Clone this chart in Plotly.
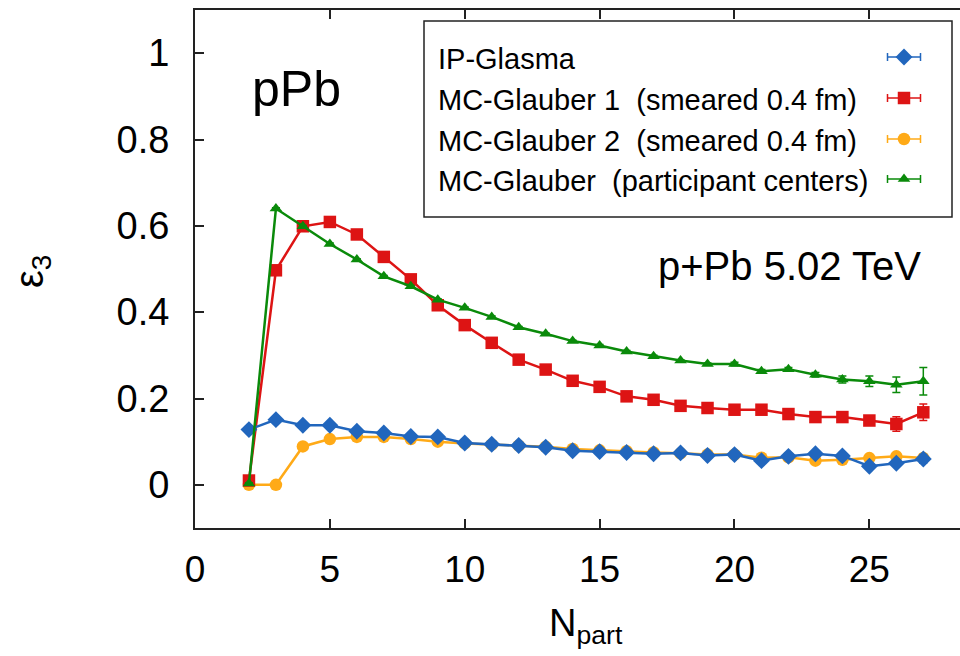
import plotly.graph_objects as go

# N_part bins
npart = list(range(2, 28))

# epsilon_3 for each model
ip_glasma = [0.128, 0.151, 0.138, 0.138, 0.124, 0.120, 0.112, 0.111, 0.097, 0.094,
             0.091, 0.087, 0.079, 0.077, 0.075, 0.072, 0.074, 0.068, 0.070, 0.056,
             0.066, 0.072, 0.067, 0.043, 0.050, 0.060]
ip_glasma_err = [0.002] * 22 + [0.004, 0.005, 0.007, 0.010]

glauber1 = [0.010, 0.497, 0.599, 0.609, 0.580, 0.528, 0.476, 0.416, 0.370, 0.329,
            0.290, 0.267, 0.241, 0.227, 0.205, 0.197, 0.183, 0.178, 0.174, 0.174,
            0.164, 0.157, 0.157, 0.149, 0.141, 0.168]
glauber1_err = [0.002] * 21 + [0.004, 0.005, 0.008, 0.017, 0.019]

glauber2 = [0.000, 0.000, 0.089, 0.106, 0.111, 0.111, 0.106, 0.100, 0.096, 0.093,
            0.091, 0.088, 0.083, 0.080, 0.078, 0.075, 0.073, 0.070, 0.070, 0.063,
            0.064, 0.056, 0.058, 0.062, 0.066, 0.062]
glauber2_err = [0.002] * 22 + [0.003, 0.004, 0.006, 0.008]

glauber_part = [0.003, 0.640, 0.599, 0.558, 0.522, 0.483, 0.460, 0.429, 0.410, 0.389,
                0.365, 0.350, 0.333, 0.323, 0.309, 0.298, 0.288, 0.280, 0.280, 0.263,
                0.268, 0.255, 0.244, 0.240, 0.232, 0.240]
glauber_part_err = [0.002] * 18 + [0.004, 0.004, 0.004, 0.005, 0.008, 0.012, 0.018, 0.032]

labels = ["IP-Glasma",
          "MC-Glauber 1  (smeared 0.4 fm)",
          "MC-Glauber 2  (smeared 0.4 fm)",
          "MC-Glauber  (participant centers)"]

xticks = [0, 5, 10, 15, 20, 25]
yticks = [0, 0.2, 0.4, 0.6, 0.8, 1]

BLUE = "#2166bd"
RED = "#dd1414"
ORANGE = "#ffaa17"
GREEN = "#0a8a0a"
FONT = "Liberation Sans, Arial, Helvetica, sans-serif"

series = {
    "ip": dict(y=ip_glasma, err=ip_glasma_err, color=BLUE, symbol="diamond", size=13, label=labels[0]),
    "g1": dict(y=glauber1, err=glauber1_err, color=RED, symbol="square", size=12.5, label=labels[1]),
    "g2": dict(y=glauber2, err=glauber2_err, color=ORANGE, symbol="circle", size=12.5, label=labels[2]),
    "gp": dict(y=glauber_part, err=glauber_part_err, color=GREEN, symbol="triangle-up", size=11, label=labels[3]),
}

fig = go.Figure()

# drawing order: later traces sit on top
for key in ["g2", "g1", "ip", "gp"]:
    s = series[key]
    fig.add_trace(go.Scatter(
        x=npart, y=s["y"], mode="lines+markers", name=s["label"],
        line=dict(color=s["color"], width=2.5),
        marker=dict(symbol=s["symbol"], size=s["size"], color=s["color"], line=dict(width=0)),
        error_y=dict(type="data", array=s["err"], visible=True, color=s["color"],
                     thickness=1.5, width=4),
        showlegend=False,
    ))

# Plot area in pixels: x 195..960, y 10..528 (measured from the top)
PX_L, PX_R, PX_T, PX_B = 195, 960, 10, 528


def px(xp, yp):
    """Pixel position -> paper coordinates."""
    return (xp - PX_L) / (PX_R - PX_L), (PX_B - yp) / (PX_B - PX_T)


# key box drawn in a pixel-based overlay frame
key_x_text = 436
key_x_mark = 904
key_rows = [57, 98, 139, 179]
for key, yy in zip(["ip", "g1", "g2", "gp"], key_rows):
    s = series[key]
    fig.add_trace(go.Scatter(
        x=[key_x_mark], y=[yy], mode="markers", xaxis="x2", yaxis="y2",
        marker=dict(symbol=s["symbol"], size=s["size"], color=s["color"], line=dict(width=0)),
        error_x=dict(type="constant", value=16.5, color=s["color"], thickness=1.5, width=4),
        showlegend=False, hoverinfo="skip",
    ))

annotations = []
for lab, yy in zip(labels, key_rows):
    xx, yy_p = px(key_x_text, yy + 2)
    annotations.append(dict(x=xx, y=yy_p, xref="paper", yref="paper", text=lab,
                            showarrow=False, xanchor="left", yanchor="middle",
                            font=dict(family=FONT, size=29, color="black")))


def text_at(xp, yp, text, size, angle=0):
    xx, yy = px(xp, yp)
    return dict(x=xx, y=yy, xref="paper", yref="paper", text=text, showarrow=False,
                xanchor="center", yanchor="middle", textangle=angle,
                font=dict(family=FONT, size=size, color="black"))


annotations += [
    text_at(296, 89, "pPb", 50),
    text_at(789, 266, "p+Pb 5.02 TeV", 40),
    text_at(32, 272, "ε<sub>3</sub>", 40, angle=-90),
    text_at(586, 626, "N<sub>part</sub>", 38),
]

fig.update_layout(
    width=960, height=656,
    margin=dict(l=PX_L, r=960 - PX_R, t=PX_T, b=656 - PX_B),
    paper_bgcolor="white", plot_bgcolor="white",
    font=dict(family=FONT, size=36, color="black"),
    xaxis=dict(range=[0, 28.36], tickvals=xticks, ticks="inside", ticklen=9, tickwidth=1.5,
               tickcolor="#222", showline=True, linewidth=2, linecolor="#222", mirror="ticks",
               showgrid=False, zeroline=False, tickfont=dict(size=37),
               ticklabelstandoff=8),
    yaxis=dict(range=[-0.1, 1.1], tickvals=yticks, ticks="inside", ticklen=9, tickwidth=1.5,
               tickcolor="#222", showline=True, linewidth=2, linecolor="#222",
               showgrid=False, zeroline=False, tickfont=dict(size=38),
               ticklabelstandoff=16),
    xaxis2=dict(range=[PX_L, PX_R], overlaying="x", anchor="y2", visible=False, fixedrange=True),
    yaxis2=dict(range=[PX_B, PX_T], overlaying="y", anchor="x2", visible=False, fixedrange=True),
    annotations=annotations,
    shapes=[dict(type="rect", xref="x2", yref="y2", x0=424, x1=952, y0=21, y1=217,
                 line=dict(color="#222", width=1.5), fillcolor="white", layer="below")],
    showlegend=False,
)

fig.write_html("out.html")
